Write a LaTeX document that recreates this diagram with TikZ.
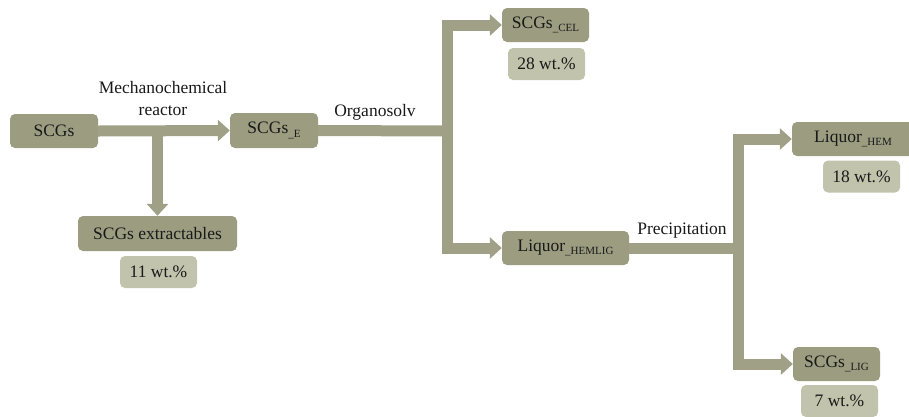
\documentclass[tikz,border=0pt]{standalone}
\usepackage{fontspec}
\setmainfont{Liberation Serif}
\newfontfamily\serfont{Liberation Serif}
\usetikzlibrary{arrows.meta}
\definecolor{boxdark}{HTML}{9B9C80}
\definecolor{boxlight}{HTML}{C2C3AC}
\definecolor{flowc}{HTML}{9FA085}
\newcommand{\sbs}[1]{\raisebox{-3.5pt}{\fontsize{11}{11}\selectfont\_#1}}
\begin{document}
\begin{tikzpicture}[x=1pt,y=-1pt,
 box/.style={fill=boxdark, rounded corners=5pt, inner sep=0pt, font=\serfont\fontsize{17.5}{17.5}\selectfont, text=black!90},
 wt/.style={fill=boxlight, rounded corners=5pt, inner sep=0pt, minimum width=77pt, minimum height=32pt, font=\serfont\fontsize{17.5}{17.5}\selectfont, text=black!90},
 flow/.style={draw=flowc, line width=11pt, -{Triangle[width=21pt,length=12pt]}},
 pipe/.style={draw=flowc, line width=11pt},
 lab/.style={font=\serfont\fontsize{17.5}{22}\selectfont, align=center, text=black!90}]
\useasboundingbox (0,0) rectangle (909,416);
\node[box, minimum width=88pt, minimum height=34pt] (scg) at (54,131) {SCGs};
\node[box, minimum width=88pt, minimum height=35pt] (scge) at (274,130.5) {SCGs\sbs{E}};
\node[box, minimum width=159pt, minimum height=35pt] (ext) at (157.5,233.5) {SCGs extractables};
\node[wt] (w11) at (158.5,272) {11 wt.\%};
\node[box, minimum width=87pt, minimum height=34pt] (cel) at (545.5,25) {SCGs\sbs{CEL}};
\node[wt] (w28) at (546.5,64) {28 wt.\%};
\node[box, minimum width=127pt, minimum height=34pt] (hemlig) at (565.5,248) {Liquor\sbs{HEMLIG}};
\node[box, minimum width=130pt, minimum height=34pt] (hem) at (857,139) {Liquor\sbs{HEM}\hspace*{8pt}};
\node[wt] (w18) at (861.5,176.5) {18 wt.\%};
\node[box, minimum width=87pt, minimum height=34pt] (lig) at (836.5,364) {SCGs\sbs{LIG}};
\node[wt] (w7) at (839.5,401) {7 wt.\%};
\node[lab] (mech) at (163,99) {Mechanochemical\\reactor};
\node[lab] (org) at (375,112) {Organosolv};
\node[lab] (prec) at (682,231) {Precipitation};
\draw[flow] (scg.east) -- (scge.west);
\coordinate (b1) at (157.5,131);
\draw[flow] (b1) -- (ext.north);
\coordinate (j1) at (447.5,131);
\draw[pipe] (scge.east) -- (j1);
\draw[flow] (j1) |- (cel.west);
\draw[flow] (j1) |- (hemlig.west);
\coordinate (j2) at (738,248);
\draw[pipe] (hemlig.east) -- (j2);
\draw[flow] (j2) |- (hem.west);
\draw[flow] (j2) |- (lig.west);
\end{tikzpicture}
\end{document}
